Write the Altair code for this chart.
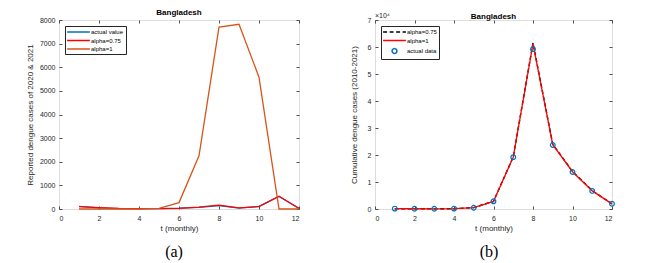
import altair as alt
import pandas as pd

# ---------------- data ----------------
months = list(range(1, 13))

# panel (a): reported dengue cases of 2020 & 2021
series_a = ["actual value", "alpha=0.75", "alpha=1"]
colors_a = ["#0072BD", "#FF0000", "#D95319"]
actual_value_a = [115, 45, 20, 15, 20, 35, 70, 145, 40, 110, 530, 30]
alpha075_a = [100, 55, 25, 20, 20, 30, 80, 160, 50, 100, 540, 20]
alpha1_a = [0, 0, 0, 0, 25, 270, 2250, 7700, 7820, 5580, 0, 0]

# panel (b): cumulative dengue cases (2010-2021)
series_b = ["alpha=0.75", "alpha=1", "actual data"]
colors_b = ["#000000", "#FF0000", "#0072BD"]
alpha075_b = [100, 80, 60, 120, 500, 2850, 19300, 61500, 24000, 13900, 6800, 1900]
alpha1_b = [120, 90, 70, 130, 480, 2800, 19200, 61200, 23800, 13800, 6700, 1900]
actual_data_b = [150, 100, 80, 150, 450, 2850, 19200, 59200, 23700, 13700, 6700, 1950]

x_ticks = [0, 2, 4, 6, 8, 10, 12]
y_ticks_a = [0, 1000, 2000, 3000, 4000, 5000, 6000, 7000, 8000]
y_ticks_b = [0, 10000, 20000, 30000, 40000, 50000, 60000, 70000]

title_text = "Bangladesh"
x_title = "t (monthly)"
y_title_a = "Reported dengue cases of 2020 & 2021"
y_title_b = "Cumulative dengue cases (2010-2021)"
exp_label = "×10⁴"
captions = ["(a)", "(b)"]

# ---------------- tables ----------------
df_a = pd.concat([
    pd.DataFrame({"t": months, "value": actual_value_a, "series": series_a[0]}),
    pd.DataFrame({"t": months, "value": alpha075_a, "series": series_a[1]}),
    pd.DataFrame({"t": months, "value": alpha1_a, "series": series_a[2]}),
], ignore_index=True)
df_b075 = pd.DataFrame({"t": months, "value": alpha075_b, "series": series_b[0]})
df_b1 = pd.DataFrame({"t": months, "value": alpha1_b, "series": series_b[1]})
df_bd = pd.DataFrame({"t": months, "value": actual_data_b, "series": series_b[2]})
df_b = pd.concat([df_b075, df_b1, df_bd], ignore_index=True)

FONT = "Liberation Sans"
INK = "#262626"
W_A, W_B, H = 240, 237, 189

x_scale = alt.Scale(domain=[0, 12], nice=False, zero=False)
y_scale_a = alt.Scale(domain=[0, 8000], nice=False)
y_scale_b = alt.Scale(domain=[0, 70000], nice=False)


def main_x_axis():
    return alt.Axis(orient="bottom", values=x_ticks, title=x_title, ticks=False,
                    domain=False, grid=False, labelFontSize=7, labelFont=FONT,
                    labelColor=INK, labelPadding=5, titleFont=FONT, titleFontSize=8,
                    titleFontWeight="normal", titleColor=INK, titlePadding=3)


def main_y_axis(values, title, pad, label_expr=None):
    kw = dict(orient="left", values=values, title=title, ticks=False, domain=False,
              grid=False, labelFontSize=7, labelFont=FONT, labelColor=INK,
              labelPadding=4, titleFont=FONT, titleFontSize=8, format="d",
              titleFontWeight="normal", titleColor=INK, titlePadding=pad)
    if label_expr:
        kw["labelExpr"] = label_expr
    return alt.Axis(**kw)


def tick_axis(orient, values):
    return alt.Axis(orient=orient, values=values, labels=False, title=None,
                    grid=False, domain=False, ticks=True, tickSize=3, offset=-3,
                    tickColor=INK, tickWidth=0.8)


def tick_layers(df, y_scale, y_values):
    l1 = alt.Chart(df).mark_point(opacity=0).encode(
        x=alt.X("t:Q", scale=x_scale, axis=tick_axis("bottom", x_ticks)),
        y=alt.Y("value:Q", scale=y_scale, axis=tick_axis("left", y_values)),
    )
    l2 = alt.Chart(df).mark_point(opacity=0).encode(
        x=alt.X("t:Q", scale=x_scale, axis=tick_axis("top", x_ticks)),
        y=alt.Y("value:Q", scale=y_scale, axis=tick_axis("right", y_values)),
    )
    return [l1, l2]


def caption(text, xpos):
    return alt.Chart(pd.DataFrame({"c": [text]})).mark_text(
        font="Liberation Serif", fontSize=16, color="black", baseline="middle",
        align="center").encode(text="c:N", x=alt.value(xpos), y=alt.value(H + 43))


def panel_title(offset):
    return alt.Title(title_text, font=FONT, fontSize=8, fontWeight="bold",
                     color="black", offset=offset, anchor="middle", frame="group")


# legend symbols: a long horizontal stroke drawn from a compact symbol size
line_path = "M-3.8,0L3.8,0"
circle_path = "M-0.8,0A0.8,0.8,0,1,0,0.8,0A0.8,0.8,0,1,0,-0.8,0Z"
legend_common = dict(orient="top-left", title=None, offset=6,
                     symbolSize=36, symbolStrokeWidth=1.5, symbolOffset=7.5,
                     strokeColor=INK, fillColor="white", padding=2,
                     labelFontSize=6, labelFont=FONT, labelColor="black",
                     labelOffset=8.5, rowPadding=1.5, labelLimit=300,
                     symbolFillColor="transparent")

# ---------------- panel (a) ----------------
legend_a = alt.Legend(**legend_common, symbolType=line_path)
lines_a = alt.Chart(df_a).mark_line(strokeWidth=1.3).encode(
    x=alt.X("t:Q", scale=x_scale, axis=main_x_axis()),
    y=alt.Y("value:Q", scale=y_scale_a, axis=main_y_axis(y_ticks_a, y_title_a, 5)),
    color=alt.Color("series:N", scale=alt.Scale(domain=series_a, range=colors_a),
                    legend=legend_a),
)
panel_a = alt.layer(lines_a, *tick_layers(df_a, y_scale_a, y_ticks_a),
                    caption(captions[0], 115)).resolve_axis(
    x="independent", y="independent").properties(width=W_A, height=H,
                                                 title=panel_title(-1))

# ---------------- panel (b) ----------------
legend_b = alt.Legend(
    **legend_common,
    symbolType=alt.ExprRef(
        expr=f"datum.value === 'actual data' ? '{circle_path}' : '{line_path}'"),
    symbolDash=alt.ExprRef(expr="datum.value === 'alpha=0.75' ? [4, 2.5] : [1, 0]"),
)
color_b = alt.Color("series:N", scale=alt.Scale(domain=series_b, range=colors_b),
                    legend=legend_b)

line_b075 = alt.Chart(df_b075).mark_line(strokeWidth=1.4, strokeDash=[4, 2.5]).encode(
    x=alt.X("t:Q", scale=x_scale, axis=main_x_axis()),
    y=alt.Y("value:Q", scale=y_scale_b,
            axis=main_y_axis(y_ticks_b, y_title_b, 9, "datum.value / 10000")),
    color=color_b,
)
line_b1 = alt.Chart(df_b1).mark_line(strokeWidth=1.3).encode(
    x=alt.X("t:Q", scale=x_scale, axis=None),
    y=alt.Y("value:Q", scale=y_scale_b, axis=None),
    color=color_b,
)
pts_b = alt.Chart(df_bd).mark_point(filled=False, shape="circle", size=22,
                                    strokeWidth=1.2, opacity=1).encode(
    x=alt.X("t:Q", scale=x_scale, axis=None),
    y=alt.Y("value:Q", scale=y_scale_b, axis=None),
    color=color_b,
)
exp_text = alt.Chart(pd.DataFrame({"e": [exp_label]})).mark_text(
    font=FONT, fontSize=7, color=INK, align="left", baseline="bottom").encode(
    text="e:N", x=alt.value(0), y=alt.value(-1))

panel_b = alt.layer(line_b075, line_b1, pts_b,
                    *tick_layers(df_b, y_scale_b, y_ticks_b),
                    exp_text, caption(captions[1], 114)).resolve_axis(
    x="independent", y="independent").properties(width=W_B, height=H,
                                                 title=panel_title(-9))

chart = alt.hconcat(panel_a, panel_b, spacing=46).resolve_scale(
    color="independent").resolve_legend(color="independent").properties(
    padding={"left": 17, "top": 0, "right": 0, "bottom": 0}
).configure_view(stroke=INK, strokeWidth=1).configure(font=FONT, background="white")

chart.save("out.html", embed_options={"renderer": "svg", "actions": False})
